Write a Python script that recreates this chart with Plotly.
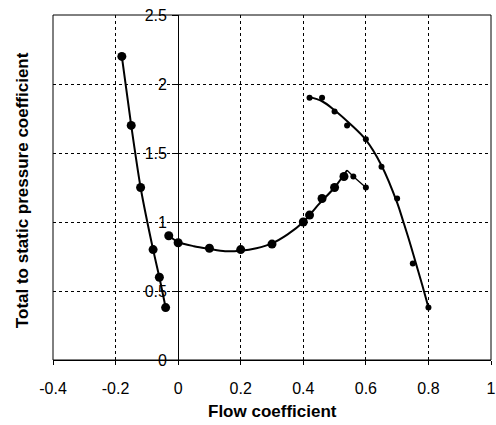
import plotly.graph_objects as go

# ---- data ----
# steep left branch (large markers)
left_x = [-0.18, -0.15, -0.12, -0.08, -0.06, -0.04]
left_y = [2.2, 1.7, 1.25, 0.8, 0.6, 0.38]

# middle branch (large markers)
mid_x = [-0.03, 0.0, 0.1, 0.2, 0.3, 0.4, 0.42, 0.46, 0.5, 0.53]
mid_y = [0.9, 0.85, 0.81, 0.8, 0.84, 1.0, 1.05, 1.17, 1.25, 1.33]
# smooth curve drawn through the middle branch
mid_curve_x = [-0.03, 0.0, 0.05, 0.1, 0.15, 0.2, 0.25, 0.3, 0.35, 0.4, 0.45, 0.5, 0.54]
mid_curve_y = [0.9, 0.855, 0.825, 0.805, 0.788, 0.792, 0.81, 0.845, 0.91, 1.0, 1.13, 1.25, 1.375]
# tail after the peak (small markers)
tail_x = [0.54, 0.56, 0.6]
tail_y = [1.375, 1.33, 1.25]
tail_mark_x = [0.56, 0.6]
tail_mark_y = [1.33, 1.25]

# right branch (small markers)
right_x = [0.42, 0.46, 0.5, 0.54, 0.6, 0.65, 0.7, 0.75, 0.8]
right_y = [1.9, 1.9, 1.8, 1.7, 1.6, 1.4, 1.17, 0.7, 0.38]
# trend curve through the right branch
right_curve_x = [0.42, 0.46, 0.5, 0.55, 0.6, 0.65, 0.7, 0.72, 0.74, 0.76, 0.78, 0.8]
right_curve_y = [1.905, 1.875, 1.81, 1.71, 1.595, 1.41, 1.14, 1.0, 0.855, 0.70, 0.545, 0.38]

x_ticks = [-0.4, -0.2, 0, 0.2, 0.4, 0.6, 0.8, 1]
x_tick_text = ["-0.4", "-0.2", "0", "0.2", "0.4", "0.6", "0.8", "1"]
y_ticks = [0, 0.5, 1, 1.5, 2, 2.5]
y_tick_text = ["0", "0.5", "1", "1.5", "2", "2.5"]

BIG = 9
SMALL = 6
LW = 2

fig = go.Figure()
fig.add_trace(go.Scatter(x=left_x, y=left_y, mode="lines+markers",
                         line=dict(color="black", width=LW, shape="spline", smoothing=0.6),
                         marker=dict(color="black", size=BIG)))
fig.add_trace(go.Scatter(x=mid_curve_x, y=mid_curve_y, mode="lines",
                         line=dict(color="black", width=LW, shape="spline", smoothing=0.8)))
fig.add_trace(go.Scatter(x=mid_x, y=mid_y, mode="markers",
                         marker=dict(color="black", size=BIG)))
fig.add_trace(go.Scatter(x=tail_x, y=tail_y, mode="lines",
                         line=dict(color="black", width=1.3)))
fig.add_trace(go.Scatter(x=tail_mark_x, y=tail_mark_y, mode="markers",
                         marker=dict(color="black", size=SMALL)))
fig.add_trace(go.Scatter(x=right_curve_x, y=right_curve_y, mode="lines",
                         line=dict(color="black", width=LW, shape="spline", smoothing=1.0)))
fig.add_trace(go.Scatter(x=right_x, y=right_y, mode="markers",
                         marker=dict(color="black", size=SMALL)))

tick_font = dict(family="Liberation Sans, Arial, sans-serif", size=16, color="black")
title_font = dict(family="Liberation Sans, Arial, sans-serif", size=17, color="black")

fig.update_layout(
    width=496, height=425,
    margin=dict(l=53, r=5, t=15, b=65, autoexpand=False),
    paper_bgcolor="white", plot_bgcolor="white",
    showlegend=False,
    xaxis=dict(range=[-0.4, 1], tickvals=x_ticks, ticktext=x_tick_text,
               automargin=False,
               showgrid=True, gridcolor="black", griddash="dot", gridwidth=1,
               zeroline=True, zerolinecolor="black", zerolinewidth=1,
               showline=True, linecolor="black", linewidth=1,
               ticks="outside", ticklen=4, tickcolor="black",
               tickfont=tick_font, ticklabelstandoff=10, fixedrange=True),
    yaxis=dict(range=[0, 2.5], tickvals=y_ticks, ticktext=y_tick_text,
               automargin=False,
               anchor="free", position=0.4 / 1.4, side="left",
               showgrid=True, gridcolor="black", griddash="dot", gridwidth=1,
               zeroline=False, showline=True, linecolor="black", linewidth=1,
               ticks="outside", ticklen=6, tickcolor="black",
               tickfont=tick_font, ticklabelstandoff=2, fixedrange=True),
    shapes=[dict(type="rect", xref="paper", yref="paper", x0=0, x1=1, y0=0, y1=1,
                 line=dict(color="black", width=1), layer="between")],
    annotations=[
        dict(text="<b>Flow coefficient</b>", xref="paper", yref="paper",
             x=0.5, y=-0.148, xanchor="center", yanchor="middle",
             showarrow=False, font=title_font),
        dict(text="<b>Total to static pressure coefficient</b>", xref="paper", yref="paper",
             x=-0.068, y=0.493, xanchor="center", yanchor="middle", textangle=-90,
             showarrow=False, font=title_font),
    ],
)

fig.write_html("out.html")
